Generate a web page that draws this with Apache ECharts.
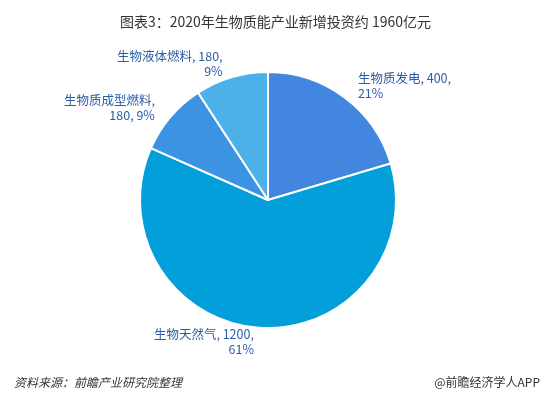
<!DOCTYPE html>
<html><head><meta charset="utf-8">
<script src="https://cdn.jsdelivr.net/npm/echarts@6/dist/echarts.min.js"></script>
<style>html,body{margin:0;padding:0;background:#fff}#c{width:551px;height:398px}</style>
</head><body><div id="c"></div>
<script>
const categories = ['生物质发电', '生物天然气', '生物质成型燃料', '生物液体燃料'];
const values = [400, 1200, 180, 180];
const percents = [21, 61, 9, 9];
const colors = ['#4286e0', '#039fda', '#3b93e2', '#4cb1e9'];
const titleText = '图表3：2020年生物质能产业新增投资约 1960亿元';
const sourceText = '资料来源：前瞻产业研究院整理';
const brandText = '@前瞻经济学人APP';

const chart = echarts.init(document.getElementById('c'));
const data = categories.map((n, i) => ({
  name: n, value: values[i], itemStyle: { color: colors[i] },
  label: { formatter: n.length >= 7 ? `${n},\n${values[i]}, ${percents[i]}%` : `${n}, ${values[i]},\n${percents[i]}%` }
}));
chart.setOption({
  title: { text: titleText, left: 'center', top: 10,
    textStyle: { fontSize: 14, fontWeight: 'normal', color: '#333', fontFamily: 'Noto Sans CJK SC' } },
  graphic: [
    { type: 'text', left: 14, top: 376, style: { text: sourceText, fill: '#333', font: 'italic 12px "Noto Sans CJK SC"' } },
    { type: 'text', right: 11, top: 376, style: { text: brandText, fill: '#333', font: '12px "Noto Sans CJK SC"' } }
  ],
  series: [{
    type: 'pie', center: [268, 200], radius: 128, startAngle: 90, clockwise: true,
    itemStyle: { borderColor: '#fff', borderWidth: 2 },
    label: { show: true, position: 'outside', color: '#2b5ca8', fontSize: 12.5, lineHeight: 15,
      fontFamily: 'Noto Sans CJK SC', align: 'center' },
    labelLine: { show: false, length: 14, length2: 0 },
    data: data
  }]
});
</script></body></html>
